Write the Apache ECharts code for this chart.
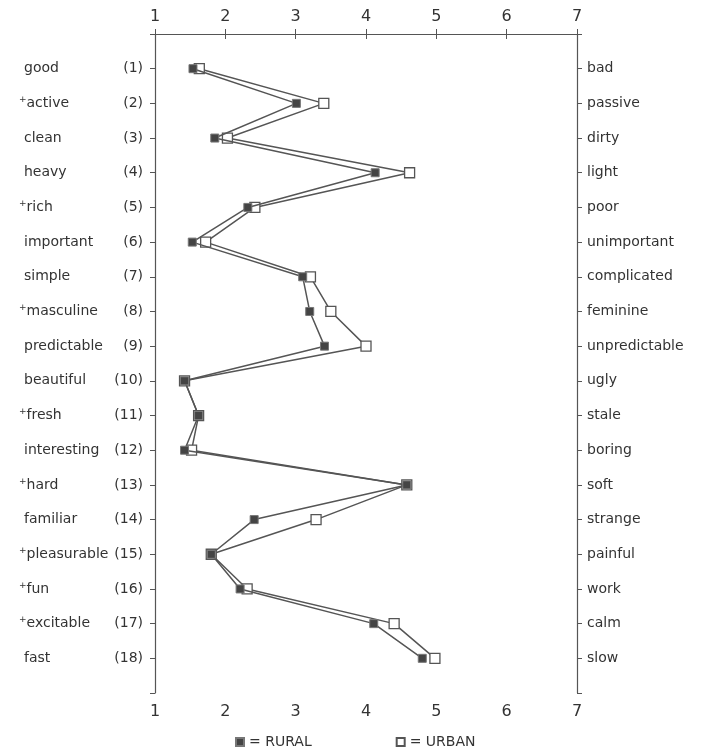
<!DOCTYPE html>
<html>
<head>
<meta charset="utf-8">
<script src="https://cdn.jsdelivr.net/npm/echarts@6/dist/echarts.min.js"></script>
<style>
  html, body { margin: 0; padding: 0; background: #fff; }
  #chart { width: 713px; height: 754px; }
</style>
</head>
<body>
<div id="chart"></div>
<script>
  // left / right poles of each scale
  var leftWords = ['good', 'active', 'clean', 'heavy', 'rich', 'important', 'simple', 'masculine', 'predictable',
    'beautiful', 'fresh', 'interesting', 'hard', 'familiar', 'pleasurable', 'fun', 'excitable', 'fast'];
  var plusMarks = [0, 1, 0, 0, 1, 0, 0, 1, 0, 0, 1, 0, 1, 0, 1, 1, 1, 0];
  var rightWords = ['bad', 'passive', 'dirty', 'light', 'poor', 'unimportant', 'complicated', 'feminine', 'unpredictable',
    'ugly', 'stale', 'boring', 'soft', 'strange', 'painful', 'work', 'calm', 'slow'];
  // mean ratings
  var rural = [1.54, 3.01, 1.85, 4.13, 2.32, 1.53, 3.10, 3.20, 3.41, 1.42, 1.62, 1.42, 4.58, 2.41, 1.80, 2.21, 4.11, 4.80];
  var urban = [1.63, 3.40, 2.03, 4.62, 2.42, 1.72, 3.21, 3.50, 4.00, 1.42, 1.62, 1.52, 4.58, 3.29, 1.80, 2.31, 4.40, 4.98];
  var xTicks = [1, 2, 3, 4, 5, 6, 7];

  var font = 'DejaVu Sans';
  var ink = '#333';
  var axisLine = { show: true, lineStyle: { color: '#555', width: 1.2 } };

  function rows(vals) {
    return vals.map(function (v, i) { return [v, i + 1]; });
  }

  var xAxisBase = {
    type: 'value', min: xTicks[0], max: xTicks[xTicks.length - 1], interval: 1,
    axisLine: axisLine,
    axisTick: { show: true, length: 5, lineStyle: { color: '#555' } },
    splitLine: { show: false }
  };
  var yAxisBase = {
    type: 'value', min: 0, max: 19, interval: 1, inverse: true,
    axisLine: axisLine,
    axisTick: { show: true, length: 5, lineStyle: { color: '#555' } },
    splitLine: { show: false }
  };

  var chart = echarts.init(document.getElementById('chart'));
  chart.setOption({
    backgroundColor: '#fff',
    animation: false,
    grid: { left: 155, right: 136, top: 34, bottom: 61 },
    xAxis: [
      Object.assign({}, xAxisBase, {
        position: 'top',
        axisLabel: { color: ink, fontFamily: font, fontSize: 16, margin: 9 }
      }),
      Object.assign({}, xAxisBase, {
        position: 'bottom',
        axisLabel: { color: ink, fontFamily: font, fontSize: 16, margin: 11 }
      })
    ],
    yAxis: [
      // left words (with + marks), left-aligned in a column
      Object.assign({}, yAxisBase, {
        position: 'left',
        axisLabel: {
          margin: 136, align: 'left',
          formatter: function (v) {
            if (v < 1 || v > 18) return '';
            var i = v - 1;
            return plusMarks[i] ? '{p|+}{w|' + leftWords[i] + '}' : '{q|' + leftWords[i] + '}';
          },
          rich: {
            p: { fontSize: 9, color: ink, fontFamily: font, padding: [0, 0, 7, 0] },
            w: { fontSize: 14, color: ink, fontFamily: font },
            q: { fontSize: 14, color: ink, fontFamily: font, padding: [0, 0, 0, 5] }
          }
        }
      }),
      // scale numbers
      Object.assign({}, yAxisBase, {
        position: 'left',
        axisLine: { show: false },
        axisTick: { show: false },
        axisLabel: {
          margin: 12, color: ink, fontFamily: font, fontSize: 14,
          formatter: function (v) { return (v < 1 || v > 18) ? '' : '(' + v + ')'; }
        }
      }),
      Object.assign({}, yAxisBase, {
        position: 'right',
        axisLabel: {
          margin: 10, color: ink, fontFamily: font, fontSize: 14,
          formatter: function (v) { return (v < 1 || v > 18) ? '' : rightWords[v - 1]; }
        }
      })
    ],
    legend: {
      left: 230, bottom: 0, itemGap: 84, itemWidth: 8, itemHeight: 8,
      icon: 'rect',
      textStyle: { color: ink, fontFamily: font, fontSize: 14 },
      formatter: function (name) { return '= ' + name; },
      data: ['RURAL', 'URBAN']
    },
    series: [
      {
        name: 'URBAN', type: 'line', data: rows(urban),
        symbol: 'rect', symbolSize: 10,
        lineStyle: { color: '#555', width: 1.5 },
        itemStyle: { color: '#fff', borderColor: '#555', borderWidth: 1.3 },
        z: 2
      },
      {
        name: 'RURAL', type: 'line', data: rows(rural),
        symbol: 'rect', symbolSize: 8,
        lineStyle: { color: '#555', width: 1.5 },
        itemStyle: { color: '#444', borderColor: '#777', borderWidth: 1 },
        z: 3
      }
    ]
  });
</script>
</body>
</html>
